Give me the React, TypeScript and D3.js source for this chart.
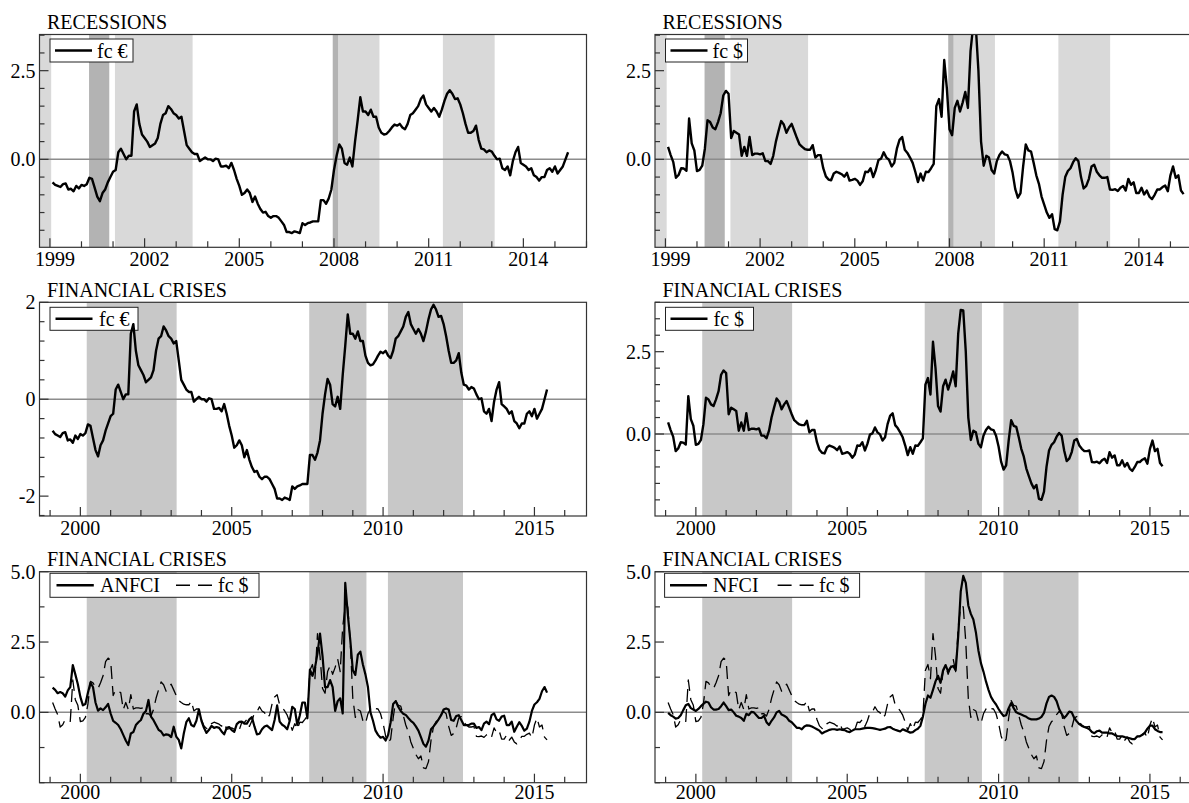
import React from 'react';
import * as d3 from 'd3';

// monthly observations, Jan 1999 – May 2015 (one row per year)
const fcEuro = [
  -0.65, -0.72, -0.75, -0.78, -0.70, -0.68, -0.85, -0.83, -0.90, -0.75, -0.82, -0.72,
  -0.75, -0.70, -0.52, -0.55, -0.80, -1.05, -1.18, -0.95, -0.85, -0.65, -0.50, -0.35,
  -0.30, 0.20, 0.30, 0.15, 0.00, 0.10, 0.10, 1.35, 1.55, 1.00, 0.70, 0.60,
  0.50, 0.35, 0.40, 0.45, 0.60, 1.00, 1.25, 1.30, 1.50, 1.42, 1.30, 1.25,
  1.15, 1.20, 0.80, 0.40, 0.30, 0.20, 0.15, 0.15, -0.05, 0.00, 0.05, 0.00,
  0.00, -0.05, 0.02, 0.00, -0.20, -0.20, -0.18, -0.25, -0.10, -0.30, -0.55, -0.75,
  -1.00, -0.95, -0.85, -0.95, -1.20, -1.05, -1.25, -1.40, -1.50, -1.48, -1.60, -1.65,
  -1.60, -1.60, -1.65, -1.75, -1.85, -2.05, -2.05, -2.08, -2.03, -2.05, -2.08, -1.80,
  -1.85, -1.80, -1.78, -1.75, -1.75, -1.75, -1.15, -1.15, -1.25, -1.10, -0.85, -0.30,
  0.10, 0.42, 0.30, -0.10, -0.15, 0.05, -0.20, 0.50, 1.10, 1.75, 1.35, 1.35,
  1.25, 1.40, 1.20, 1.20, 0.90, 0.75, 0.70, 0.72, 0.80, 0.90, 0.98, 0.95,
  1.00, 0.90, 0.85, 1.00, 1.25, 1.30, 1.40, 1.50, 1.70, 1.80, 1.55, 1.45,
  1.35, 1.45, 1.35, 1.20, 1.40, 1.65, 1.85, 1.95, 1.85, 1.70, 1.72, 1.55,
  1.30, 1.00, 0.75, 0.75, 0.80, 0.95, 0.55, 0.30, 0.28, 0.20, 0.25, 0.22,
  0.10, 0.00, 0.02, -0.25, -0.30, -0.20, -0.45, -0.05, 0.20, 0.35, -0.10, -0.15,
  -0.20, -0.30, -0.25, -0.45, -0.50, -0.60, -0.50, -0.50, -0.30, -0.25, -0.35, -0.20,
  -0.40, -0.30, -0.20, 0.00, 0.20,
];

const fcDollar = [
  0.35, 0.12, -0.08, -0.52, -0.44, -0.25, -0.26, -0.32, 1.15, 0.45, 0.25, -0.33,
  -0.30, -0.18, 0.30, 1.10, 1.05, 0.90, 0.85, 1.05, 1.30, 1.80, 1.93, 1.85,
  0.60, 0.80, 0.75, 0.70, 0.10, 0.35, 0.10, 0.63, 0.12, 0.16, 0.16, 0.14,
  0.17, -0.05, -0.05, -0.13, 0.10, 0.50, 0.80, 1.08, 0.98, 0.75, 0.90, 1.00,
  0.80, 0.60, 0.42, 0.35, 0.29, 0.27, 0.27, 0.40, 0.05, 0.12, 0.12, -0.25,
  -0.48, -0.57, -0.59, -0.40, -0.35, -0.38, -0.42, -0.49, -0.38, -0.60, -0.58, -0.55,
  -0.60, -0.72, -0.62, -0.35, -0.36, -0.25, -0.50, -0.30, -0.02, 0.02, 0.20, 0.05,
  -0.01, -0.20, -0.10, 0.30, 0.55, 0.63, 0.27, 0.18, 0.05, -0.10, -0.35, -0.64,
  -0.40, -0.60, -0.35, -0.36, -0.25, -0.13, 1.50, 1.70, 1.20, 2.80, 2.00, 0.85,
  0.68, 1.45, 1.65, 1.35, 1.60, 1.90, 1.45, 3.05, 3.77, 3.75, 2.50, 0.50,
  -0.18, 0.10, 0.05, -0.30, -0.40, -0.05, 0.12, 0.22, 0.14, 0.12, -0.05, -0.38,
  -0.84, -1.08, -0.95, -0.20, 0.42, 0.25, 0.22, -0.10, -0.45, -0.69, -1.05, -1.28,
  -1.50, -1.65, -1.55, -1.97, -2.00, -1.75, -1.00, -0.50, -0.33, -0.25, -0.08, 0.03,
  -0.05, -0.50, -0.82, -0.75, -0.55, -0.20, -0.15, -0.35, -0.45, -0.52, -0.52, -0.50,
  -0.85, -0.86, -0.84, -0.89, -0.80, -0.75, -0.88, -0.55, -0.72, -0.65, -0.95, -0.95,
  -0.80, -0.99, -0.88, -1.05, -1.12, -1.00, -0.85, -0.85, -0.78, -0.74, -0.90, -0.45,
  -0.20, -0.52, -0.45, -0.88, -0.98,
];

const anfci = [
  0.88, 0.80, 0.68, 0.72, 0.68, 0.56, 0.78, 0.90, 1.68, 1.35, 1.00, 0.55,
  0.25, 0.30, 0.70, 1.05, 0.90, 0.35, 0.06, 0.14, 0.08, 0.18, 0.30, -0.04,
  -0.30, -0.37, -0.45, -0.60, -0.80, -1.00, -1.16, -0.75, -0.70, -0.45, -0.35, -0.27,
  -0.05, 0.05, 0.44, -0.15, -0.28, -0.45, -0.62, -0.68, -0.82, -0.78, -0.80, -0.88,
  -0.51, -0.86, -0.98, -1.28, -0.75, -0.35, -0.21, -0.45, -0.50, -0.30, 0.10, -0.30,
  -0.55, -0.73, -0.62, -0.48, -0.55, -0.52, -0.55, -0.68, -0.78, -0.55, -0.52, -0.63,
  -0.69, -0.42, -0.34, -0.33, -0.40, -0.40, -0.25, -0.17, -0.50, -0.78, -0.76, -0.60,
  -0.50, -0.47, -0.55, -0.63, -0.27, 0.25, -0.33, -0.44, -0.50, -0.60, -0.30, 0.20,
  0.12, -0.45, -0.10, 0.35, 0.35, -0.21, 1.52, 1.30, 1.58, 2.10, 2.80, 2.00,
  0.90, 0.90, 1.15, 0.90, 0.05, 0.40, 0.50, -0.04, 4.60, 3.50, 2.57, 1.50,
  1.33, 2.05, 2.16, 1.70, 1.35, 0.90, 0.00, -0.30, -0.65, -0.80, -0.90, -0.87,
  -1.00, -0.80, -0.35, 0.30, 0.40, 0.20, 0.05, -0.05, -0.09, -0.20, -0.30, -0.37,
  -0.50, -0.65, -0.88, -1.12, -1.22, -1.00, -0.60, -0.50, -0.38, -0.25, -0.10, 0.10,
  0.14, 0.10, -0.27, -0.30, -0.13, -0.10, -0.27, -0.45, -0.45, -0.45, -0.40, -0.40,
  -0.55, -0.52, -0.63, -0.40, -0.33, -0.42, -0.10, -0.04, -0.25, -0.30, -0.15, -0.12,
  -0.45, -0.45, -0.33, -0.69, -0.51, -0.35, -0.48, -0.65, -0.58, -0.33, 0.05, 0.28,
  0.36, 0.48, 0.75, 0.90, 0.70,
];

const nfci = [
  -0.02, -0.10, -0.15, -0.22, -0.20, -0.10, 0.08, 0.25, 0.30, 0.15, 0.10, 0.05,
  0.12, 0.22, 0.30, 0.38, 0.35, 0.18, 0.10, 0.10, 0.12, 0.22, 0.35, 0.22,
  0.08, 0.10, 0.00, -0.12, -0.15, -0.20, -0.30, -0.05, -0.10, 0.02, 0.00, -0.10,
  -0.20, -0.20, -0.12, -0.35, -0.45, -0.30, -0.18, 0.00, 0.05, -0.08, -0.12, -0.18,
  -0.30, -0.35, -0.45, -0.55, -0.55, -0.60, -0.50, -0.46, -0.47, -0.50, -0.55, -0.60,
  -0.65, -0.75, -0.70, -0.66, -0.62, -0.60, -0.60, -0.62, -0.60, -0.62, -0.63, -0.68,
  -0.70, -0.65, -0.60, -0.60, -0.60, -0.58, -0.56, -0.55, -0.55, -0.56, -0.58, -0.60,
  -0.62, -0.60, -0.58, -0.53, -0.52, -0.58, -0.62, -0.65, -0.68, -0.60, -0.64, -0.68,
  -0.72, -0.70, -0.63, -0.58, -0.48, -0.15, 0.30, 0.60, 0.52, 0.80, 1.10, 1.30,
  1.05, 1.50, 1.68, 1.45, 1.60, 1.65, 1.50, 2.70, 4.30, 4.85, 4.60, 3.80,
  3.50, 3.30, 2.85, 2.20, 1.75, 1.45, 1.10, 0.80, 0.55, 0.40, 0.28, 0.12,
  -0.02, -0.13, -0.10, 0.15, 0.33, 0.15, 0.00, -0.04, -0.08, -0.12, -0.16, -0.22,
  -0.25, -0.25, -0.25, -0.22, -0.16, -0.02, 0.32, 0.55, 0.60, 0.55, 0.40, 0.12,
  -0.05, -0.20, -0.10, 0.03, 0.00, -0.20, -0.32, -0.42, -0.48, -0.52, -0.55, -0.60,
  -0.70, -0.74, -0.67, -0.65, -0.72, -0.72, -0.72, -0.75, -0.75, -0.80, -0.84, -0.85,
  -0.85, -0.88, -0.90, -0.92, -0.95, -0.95, -0.85, -0.85, -0.80, -0.72, -0.58, -0.47,
  -0.47, -0.60, -0.66, -0.70, -0.70,
];

const months = fcEuro.map((_, i) => 1999 + (i + 1) / 12);

// shaded periods in decimal years
const recessionLight = [[1998.6, 1999.04], [2001.06, 2003.52], [2008.13, 2009.44], [2011.45, 2013.09]];
const recessionDark = [[2000.24, 2000.88], [2007.96, 2008.13]];
const crisisPeriods = [[2000.21, 2003.18], [2007.56, 2009.45], [2010.16, 2012.64]];

const FONT = '"Liberation Serif", "Times New Roman", serif';
const PANEL_W = 547;
const COL2 = 615.5;

type Series = { values: number[]; dashed?: boolean; width: number };
type LegendItem = { label: string; dashed?: boolean; x1: number; x2: number; tx: number };

interface PanelProps {
  id: string;
  left: number;
  top: number;
  bottom: number;
  labelGap: number;
  xDomain: [number, number];
  yDomain: [number, number];
  yStep: number;
  yMajors: number[];
  yFmt: (v: number) => string;
  xFirst: number;
  xStep: number;
  xLabelDx: number;
  bands: { span: number[]; fill: string }[];
  series: Series[];
  title: string;
  legend: { dx: number; dy: number; w: number; h: number; items: LegendItem[] };
}

const Panel: React.FC<PanelProps> = (p) => {
  const right = p.left + PANEL_W;
  const x = d3.scaleLinear().domain(p.xDomain).range([p.left, right]);
  const y = d3.scaleLinear().domain(p.yDomain).range([p.bottom, p.top]);
  const line = d3.line<number>().x((_, i) => x(months[i])).y((d) => y(d));

  const yTicks = d3
    .range(Math.ceil(p.yDomain[0] / p.yStep - 1e-6), Math.floor(p.yDomain[1] / p.yStep + 1e-6) + 1)
    .map((k) => +(k * p.yStep).toFixed(6));
  const isMajorY = (v: number) => p.yMajors.some((m) => Math.abs(m - v) < 1e-6);
  const xTicks = d3.range(Math.ceil(p.xDomain[0]), Math.floor(p.xDomain[1]) + 1);
  const isMajorX = (yr: number) => (yr - p.xFirst) % p.xStep === 0 && yr >= p.xFirst;

  const lg = p.legend;
  const lx = p.left + lg.dx;
  const ly = p.top + lg.dy;
  const lcy = ly + lg.h / 2;

  return (
    <g>
      <defs>
        <clipPath id={p.id}>
          <rect x={p.left} y={p.top} width={PANEL_W} height={p.bottom - p.top} />
        </clipPath>
      </defs>
      <text x={p.left + 7.5} y={p.top - 5.5} fontSize={20} fontFamily={FONT}>{p.title}</text>
      <g clipPath={`url(#${p.id})`}>
        {p.bands.map((b, i) => (
          <rect key={i} x={x(b.span[0])} y={p.top} width={x(b.span[1]) - x(b.span[0])}
            height={p.bottom - p.top} fill={b.fill} />
        ))}
        <line x1={p.left} x2={right} y1={y(0)} y2={y(0)} stroke="#8c8c8c" strokeWidth={1.5} />
      </g>
      <rect x={lx} y={ly} width={lg.w} height={lg.h} fill="#fff" stroke="#222" strokeWidth={1} />
      {lg.items.map((it, i) => (
        <g key={i}>
          <line x1={lx + it.x1} x2={lx + it.x2} y1={lcy} y2={lcy} stroke="#000"
            strokeWidth={it.dashed ? 1.4 : 2.4} strokeDasharray={it.dashed ? '14 8' : undefined} />
          <text x={lx + it.tx} y={lcy + 7} fontSize={20} fontFamily={FONT}>{it.label}</text>
        </g>
      ))}
      <g clipPath={`url(#${p.id})`}>
        {p.series.map((s, i) => (
          <path key={i} d={line(s.values) || ''} fill="none" stroke="#000" strokeWidth={s.width}
            strokeLinejoin="round" strokeDasharray={s.dashed ? '13 7' : undefined} />
        ))}
      </g>
      <rect x={p.left} y={p.top} width={PANEL_W} height={p.bottom - p.top} fill="none"
        stroke="#333" strokeWidth={1.2} />
      {yTicks.map((v) => (
        <g key={`y${v}`}>
          <line x1={p.left} x2={p.left + (isMajorY(v) ? 9 : 5)} y1={y(v)} y2={y(v)} stroke="#333" strokeWidth={1.2} />
          {isMajorY(v) && (
            <text x={p.left - 4} y={y(v) + 7} textAnchor="end" fontSize={20} fontFamily={FONT}>{p.yFmt(v)}</text>
          )}
        </g>
      ))}
      {xTicks.map((yr) => (
        <g key={`x${yr}`}>
          <line x1={x(yr)} x2={x(yr)} y1={p.bottom} y2={p.bottom - (isMajorX(yr) ? 9 : 6)} stroke="#333" strokeWidth={1.2} />
          {isMajorX(yr) && (
            <text x={x(yr) + p.xLabelDx} y={p.bottom + p.labelGap} textAnchor="middle" fontSize={20} fontFamily={FONT}>{yr}</text>
          )}
        </g>
      ))}
    </g>
  );
};

const oneDec = (v: number) => v.toFixed(1);
const whole = (v: number) => String(v);

const recBands = [
  ...recessionLight.map((span) => ({ span, fill: '#d9d9d9' })),
  ...recessionDark.map((span) => ({ span, fill: '#b3b3b3' })),
];
const crisisBands = crisisPeriods.map((span) => ({ span, fill: '#c8c8c8' }));

const ROW1 = { top: 34.5, bottom: 247.3, labelGap: 19, xDomain: [1998.67, 2016.0] as [number, number] };
const ROW2 = { top: 302.3, bottom: 516, labelGap: 19, xDomain: [1998.65, 2016.72] as [number, number] };
const ROW3 = { top: 571.7, bottom: 782.7, labelGap: 16.5, xDomain: [1998.65, 2016.72] as [number, number] };

const App: React.FC = () => {
  const L = 39.5;
  const R = L + COL2;
  const single = (label: string, w: number, x1: number, tx: number) => ({
    dx: 10.5, dy: 4.5, w, h: 23,
    items: [{ label, x1, x2: x1 + 37, tx }],
  });
  return (
    <svg width={1189} height={803} style={{ position: 'absolute', left: 0, top: 0, background: '#fff' }}>
      <rect width={1189} height={803} fill="#fff" />
      <Panel id="p1" left={L} {...ROW1} yDomain={[-2.48, 3.52]} yStep={0.5} yMajors={[0, 2.5]} yFmt={oneDec}
        xFirst={1999} xStep={3} xLabelDx={5} bands={recBands} title="RECESSIONS"
        series={[{ values: fcEuro, width: 2.4 }]} legend={single('fc €', 83, 5, 47)} />
      <Panel id="p2" left={R} {...ROW1} yDomain={[-2.48, 3.52]} yStep={0.5} yMajors={[0, 2.5]} yFmt={oneDec}
        xFirst={1999} xStep={3} xLabelDx={5} bands={recBands} title="RECESSIONS"
        series={[{ values: fcDollar, width: 2.4 }]} legend={single('fc $', 82, 5, 47)} />
      <Panel id="p3" left={L} {...ROW2} yDomain={[-2.41, 2.0]} yStep={0.4} yMajors={[-2, 0, 2]} yFmt={whole}
        xFirst={2000} xStep={5} xLabelDx={0} bands={crisisBands} title="FINANCIAL CRISES"
        series={[{ values: fcEuro, width: 2.4 }]} legend={{ ...single('fc €', 88, 5.5, 49), dy: 5 }} />
      <Panel id="p4" left={R} {...ROW2} yDomain={[-2.49, 4.0]} yStep={0.5} yMajors={[0, 2.5]} yFmt={oneDec}
        xFirst={2000} xStep={5} xLabelDx={0} bands={crisisBands} title="FINANCIAL CRISES"
        series={[{ values: fcDollar, width: 2.4 }]} legend={{ ...single('fc $', 88, 5, 48), dy: 5 }} />
      <Panel id="p5" left={L} {...ROW3} yDomain={[-2.5, 5.0]} yStep={1.25} yMajors={[0, 2.5, 5]} yFmt={oneDec}
        xFirst={2000} xStep={5} xLabelDx={0} bands={crisisBands} title="FINANCIAL CRISES"
        series={[{ values: fcDollar, width: 1.3, dashed: true }, { values: anfci, width: 2.2 }]}
        legend={{
          dx: 10.5, dy: 1.6, w: 209, h: 24,
          items: [
            { label: 'ANFCI', x1: 6.5, x2: 43.8, tx: 50 },
            { label: 'fc $', dashed: true, x1: 126, x2: 162, tx: 168 },
          ],
        }} />
      <Panel id="p6" left={R} {...ROW3} yDomain={[-2.5, 5.0]} yStep={1.25} yMajors={[0, 2.5, 5]} yFmt={oneDec}
        xFirst={2000} xStep={5} xLabelDx={0} bands={crisisBands} title="FINANCIAL CRISES"
        series={[{ values: fcDollar, width: 1.3, dashed: true }, { values: nfci, width: 2.2 }]}
        legend={{
          dx: 9.6, dy: 1.6, w: 195, h: 24,
          items: [
            { label: 'NFCI', x1: 5.4, x2: 42.4, tx: 48.4 },
            { label: 'fc $', dashed: true, x1: 113, x2: 149.4, tx: 154.4 },
          ],
        }} />
    </svg>
  );
};

export default App;
